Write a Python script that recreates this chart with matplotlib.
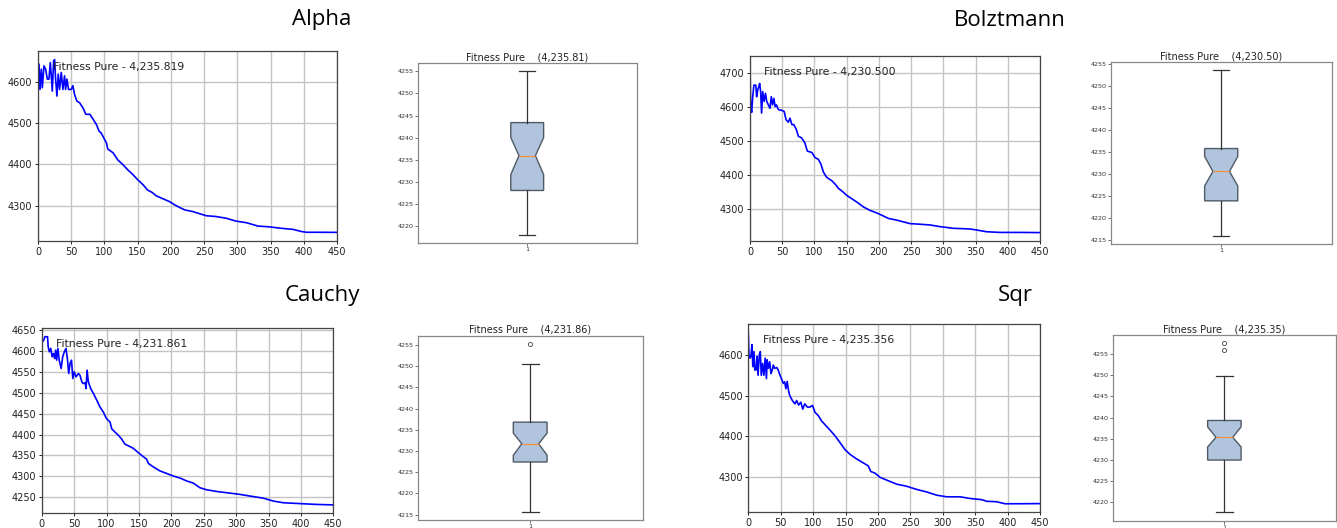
import matplotlib
matplotlib.use("Agg")
import matplotlib.pyplot as plt
from matplotlib.ticker import MultipleLocator

# ---- line data (iteration, fitness) ----
alpha_x = [0, 1.5, 3, 5, 6.5, 9, 11.5, 14, 16.5, 18.5, 20, 21.5, 23.5, 25, 26.5, 28.5, 30.5, 32.5,
           35, 37.5, 40, 41.5, 43.5, 46, 50, 52.5, 55, 58.5, 62.5, 67.5, 72, 78, 83, 88, 92, 95, 99,
           103, 105, 113, 120, 128, 135, 143, 150, 158, 165, 172, 178, 188, 198, 206, 213, 221, 233,
           243, 253, 268, 283, 298, 314, 331, 349, 364, 384, 396, 404, 424, 450]
alpha_y = [4642, 4642, 4581, 4630, 4585, 4638, 4630, 4606, 4606, 4646, 4614, 4577, 4650, 4653, 4606,
           4565, 4618, 4581, 4622, 4581, 4614, 4581, 4606, 4581, 4581, 4590, 4569, 4553, 4549, 4537,
           4521, 4521, 4509, 4496, 4480, 4476, 4464, 4452, 4437, 4428, 4411, 4399, 4387, 4375, 4363,
           4351, 4338, 4332, 4324, 4317, 4310, 4302, 4296, 4290, 4286, 4281, 4276, 4274, 4270, 4263,
           4259, 4251, 4249, 4246, 4243, 4238, 4236, 4236, 4235.8]

bolz_x = [0, 1, 2.6, 4, 6, 9, 10.3, 12, 13.5, 15, 16.5, 18, 19.7, 22, 24, 26, 28.5, 31, 33, 35, 37,
          39, 41, 44, 49, 53, 56, 59.5, 62, 65, 68, 72, 75, 80, 85, 89, 96, 101, 106, 110, 114, 119,
          127, 134, 137, 145, 150, 158, 166, 176, 186, 197, 204, 215, 228, 238, 248, 264, 279, 295,
          316, 331, 342, 352, 367, 388, 419, 450]
bolz_y = [4725, 4601, 4584, 4625, 4664, 4664, 4630, 4650, 4659, 4669, 4645, 4582, 4645, 4616, 4640,
          4616, 4606, 4596, 4630, 4606, 4625, 4601, 4606, 4592, 4590, 4587, 4562, 4555, 4567, 4548,
          4548, 4533, 4514, 4509, 4495, 4470, 4466, 4451, 4446, 4432, 4408, 4393, 4383, 4369, 4361,
          4349, 4340, 4330, 4320, 4306, 4296, 4288, 4282, 4272, 4267, 4262, 4257, 4255, 4253, 4248,
          4243, 4242, 4241, 4238, 4233, 4231, 4231, 4230.5]

cauchy_x = [0, 2.6, 5, 9, 10, 11.8, 14, 16, 18, 20, 21.6, 23, 25, 27, 30, 32.4, 35, 37.5, 39.6, 41.7,
            43.7, 46, 48, 50, 53, 56.6, 59, 62, 64, 67, 68.4, 70, 72, 75.6, 80, 85, 90, 95, 100,
            105.5, 108, 113, 118, 123.5, 128.6, 134, 141.5, 152, 162, 164.6, 172, 182.6, 193, 203,
            213.5, 224, 234, 244, 254.6, 270, 285.5, 306, 321.5, 342, 357.5, 373, 398.7, 424, 450]
cauchy_y = [4624, 4624, 4634, 4634, 4610, 4598, 4606, 4586, 4594, 4582, 4602, 4578, 4606, 4578, 4558,
            4586, 4598, 4606, 4582, 4546, 4570, 4578, 4534, 4550, 4538, 4546, 4542, 4526, 4522, 4524,
            4510, 4554, 4526, 4510, 4498, 4482, 4466, 4454, 4438, 4430, 4414, 4406, 4399, 4389, 4377,
            4373, 4367, 4353, 4341, 4331, 4323, 4313, 4307, 4301, 4296, 4289, 4284, 4273, 4268, 4264,
            4261, 4257, 4253, 4248, 4241, 4237, 4235, 4233, 4231.9]

sqr_x = [0, 1, 2.6, 4, 5.7, 7, 8.7, 10, 12, 13.4, 15, 17, 18.5, 20, 22, 24, 26, 28, 29, 31, 33, 35,
         37, 38.6, 40.6, 44, 46, 49, 51, 54, 56, 58, 60, 62, 64, 68, 72, 74.6, 77.7, 81, 84, 87, 91,
         95, 99, 103, 108, 113, 120, 127, 134, 141.5, 149, 157, 167, 177.5, 185, 189, 195.5, 203,
         213.5, 229, 244, 260, 275, 290.6, 306, 326.6, 342, 360, 368, 383, 396, 419, 450]
sqr_y = [4654, 4600, 4592, 4596, 4625, 4571, 4608, 4563, 4563, 4596, 4550, 4600, 4608, 4550, 4579,
         4550, 4592, 4542, 4588, 4567, 4583, 4554, 4563, 4575, 4567, 4569, 4563, 4550, 4542, 4530,
         4534, 4517, 4535, 4513, 4500, 4488, 4480, 4488, 4477, 4484, 4467, 4480, 4472, 4472, 4476,
         4459, 4451, 4438, 4426, 4414, 4401, 4385, 4368, 4356, 4345, 4335, 4328, 4314, 4310, 4300,
         4293, 4283, 4278, 4270, 4264, 4256, 4252, 4252, 4248, 4245, 4241, 4240, 4235, 4235, 4235.4]

# ---- box plot summaries: whisker low, q1, notch low, median, notch high, q3, whisker high ----
alpha_box = [4218.0, 4228.0, 4231.6, 4235.9, 4240.0, 4243.4, 4255.0]
bolz_box = [4215.8, 4223.8, 4227.2, 4230.5, 4233.9, 4235.7, 4253.5]
cauchy_box = [4215.7, 4227.4, 4229.0, 4231.7, 4234.2, 4236.8, 4250.4]
sqr_box = [4217.5, 4229.9, 4233.0, 4235.3, 4237.8, 4239.3, 4249.8]
alpha_fliers = []
bolz_fliers = []
cauchy_fliers = [4255.2]
sqr_fliers = [4256.0, 4257.6]

names = ["Alpha", "Bolztmann", "Cauchy", "Sqr"]
line_labels = ["Fitness Pure - 4,235.819", "Fitness Pure - 4,230.500",
               "Fitness Pure - 4,231.861", "Fitness Pure - 4,235.356"]
box_titles = ["Fitness Pure    (4,235.81)", "Fitness Pure    (4,230.50)",
              "Fitness Pure    (4,231.86)", "Fitness Pure    (4,235.35)"]
y_steps = [100, 100, 50, 100]

W, H = 1337, 528
fig = plt.figure(figsize=(W / 100, H / 100), dpi=100)


def px_axes(left, right, top, bottom):
    # pixel box (from top-left) -> figure fraction
    return fig.add_axes([left / W, 1 - bottom / H, (right - left) / W, (bottom - top) / H])


line_boxes = [(38, 337, 51, 241), (750, 1040, 56, 241),
              (41.7, 333.3, 328.3, 513.3), (748.3, 1040, 324.3, 512.3)]
box_boxes = [(417.7, 636.7, 63.3, 242.7), (1110.7, 1331.7, 62, 244.3),
             (417.7, 642.7, 335.7, 520), (1112.7, 1336, 335, 520.7)]
title_pos = [(322, 20), (1010, 20), (322, 296), (1015, 296)]

xs = [alpha_x, bolz_x, cauchy_x, sqr_x]
ys = [alpha_y, bolz_y, cauchy_y, sqr_y]
boxes = [alpha_box, bolz_box, cauchy_box, sqr_box]
fliers = [alpha_fliers, bolz_fliers, cauchy_fliers, sqr_fliers]

for i in range(4):
    # big section title
    tx, ty = title_pos[i]
    fig.text(tx / W, 1 - ty / H, names[i], ha="center", va="center",
             fontsize=16, family="Open Sans")

    # convergence line
    ax = px_axes(*line_boxes[i])
    ax.plot(xs[i], ys[i], color="#0000ff", lw=1.2)
    ax.set_xlim(0, 450)
    ax.xaxis.set_major_locator(MultipleLocator(50))
    ax.yaxis.set_major_locator(MultipleLocator(y_steps[i]))
    ax.grid(True, color="#c4c4c4", lw=1.0)
    ax.set_axisbelow(True)
    ax.tick_params(labelsize=7, length=2.5, width=0.7, pad=1.5, colors="#222222")
    for s in ax.spines.values():
        s.set_color("#444444")
        s.set_linewidth(0.9)
    ax.text(0.05, 0.915, line_labels[i], transform=ax.transAxes, va="center",
            fontsize=7.8, color="#222222")

    # notched box plot
    bx = px_axes(*box_boxes[i])
    b = boxes[i]
    stats = [dict(whislo=b[0], q1=b[1], cilo=b[2], med=b[3], cihi=b[4], q3=b[5],
                  whishi=b[6], fliers=fliers[i], label="1")]
    bx.bxp(stats, positions=[1], widths=0.15, shownotches=True, patch_artist=True,
           boxprops=dict(facecolor="#b0c4de", edgecolor="#505a66", linewidth=1.0),
           medianprops=dict(color="#ff8c2a", linewidth=0.8),
           whiskerprops=dict(color="#333333", linewidth=0.9),
           capprops=dict(color="#333333", linewidth=0.9),
           flierprops=dict(marker="o", markersize=3, markerfacecolor="none",
                           markeredgecolor="#444444", markeredgewidth=0.6))
    bx.set_xlim(0.5, 1.5)
    bx.yaxis.set_major_locator(MultipleLocator(5))
    bx.tick_params(labelsize=4.6, length=2, width=0.5, pad=1, colors="#333333")
    for s in bx.spines.values():
        s.set_color("#888888")
        s.set_linewidth(0.9)
    bx.set_title(box_titles[i], fontsize=7, pad=2, color="#222222")

fig.savefig("out.png", dpi=100)
